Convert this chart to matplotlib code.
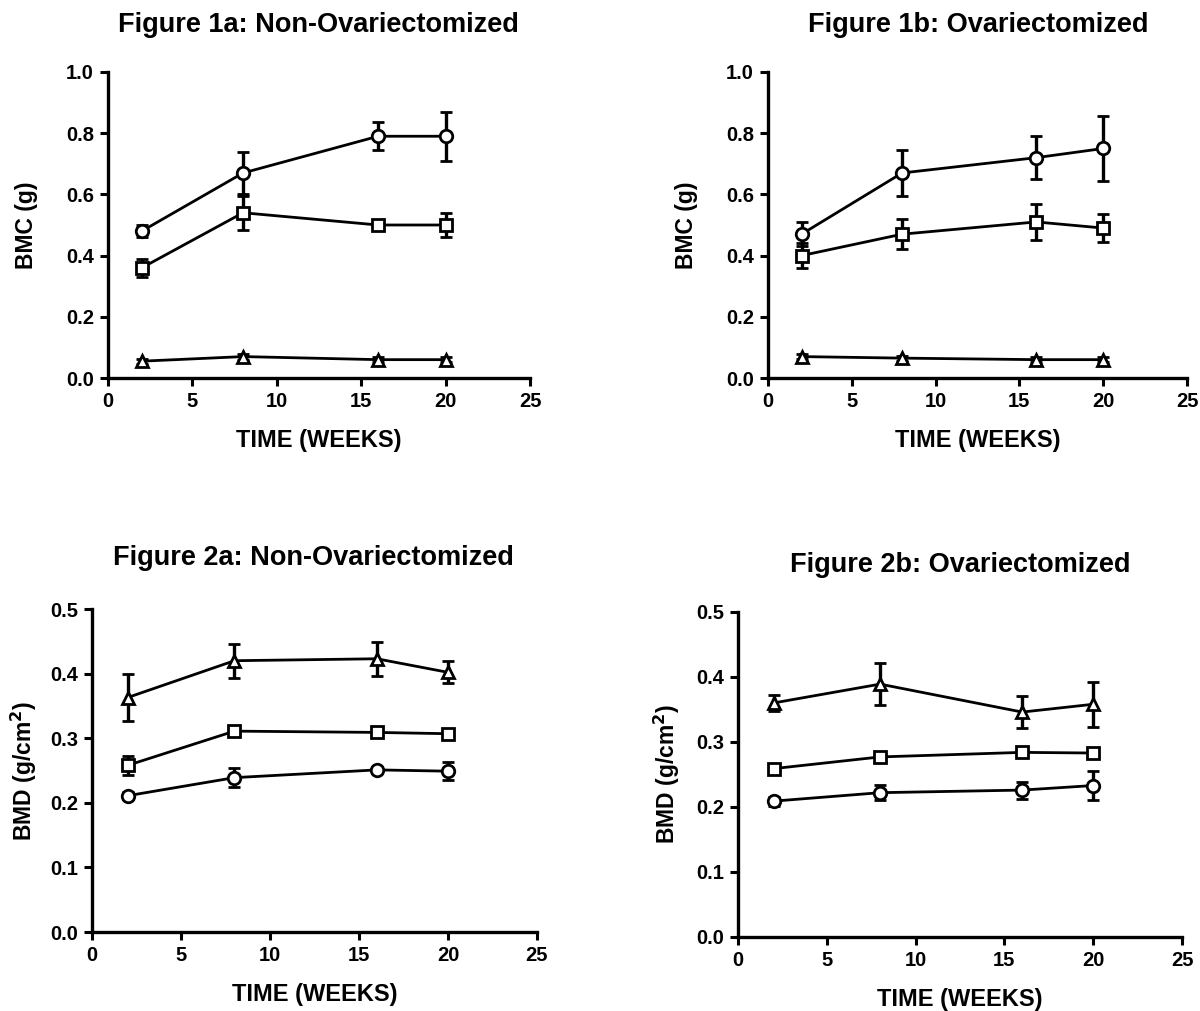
import matplotlib
matplotlib.use("Agg")
import matplotlib.pyplot as plt

plt.rcParams['font.family'] = ['Liberation Sans', 'DejaVu Sans']
plt.rcParams['font.weight'] = 'bold'
plt.rcParams['mathtext.default'] = 'bf'

# time points (weeks)
weeks = [2, 8, 16, 20]

# Figure 1a: BMC, non-ovariectomized
bmc_a_circle = [0.48, 0.67, 0.79, 0.79]
bmc_a_circle_err = [0.02, 0.07, 0.045, 0.08]
bmc_a_square = [0.36, 0.54, 0.50, 0.50]
bmc_a_square_err = [0.03, 0.055, 0.01, 0.04]
bmc_a_triangle = [0.055, 0.07, 0.06, 0.06]
bmc_a_triangle_err = [0.008, 0.01, 0.008, 0.008]

# Figure 1b: BMC, ovariectomized
bmc_b_circle = [0.47, 0.67, 0.72, 0.75]
bmc_b_circle_err = [0.04, 0.075, 0.07, 0.105]
bmc_b_square = [0.40, 0.47, 0.51, 0.49]
bmc_b_square_err = [0.04, 0.05, 0.06, 0.045]
bmc_b_triangle = [0.07, 0.065, 0.06, 0.06]
bmc_b_triangle_err = [0.008, 0.008, 0.008, 0.008]

# Figure 2a: BMD, non-ovariectomized
bmd_a_triangle = [0.363, 0.42, 0.423, 0.402]
bmd_a_triangle_err = [0.036, 0.026, 0.026, 0.017]
bmd_a_square = [0.258, 0.311, 0.309, 0.307]
bmd_a_square_err = [0.015, 0.005, 0.005, 0.005]
bmd_a_circle = [0.211, 0.239, 0.251, 0.249]
bmd_a_circle_err = [0.005, 0.015, 0.005, 0.014]

# Figure 2b: BMD, ovariectomized
bmd_b_triangle = [0.36, 0.389, 0.346, 0.358]
bmd_b_triangle_err = [0.012, 0.032, 0.025, 0.035]
bmd_b_square = [0.259, 0.277, 0.284, 0.283]
bmd_b_square_err = [0.006, 0.005, 0.005, 0.007]
bmd_b_circle = [0.209, 0.222, 0.226, 0.233]
bmd_b_circle_err = [0.007, 0.012, 0.013, 0.022]

titles = ["Figure 1a: Non-Ovariectomized", "Figure 1b: Ovariectomized",
          "Figure 2a: Non-Ovariectomized", "Figure 2b: Ovariectomized"]


def draw_series(ax, y, err, marker):
    ax.errorbar(weeks, y, yerr=err, color='black', lw=2, marker=marker,
                markersize=9, markerfacecolor='white', markeredgewidth=2,
                elinewidth=2.4, capsize=4.5, capthick=2.4, clip_on=False)


def style_axes(ax, ymax, ystep, ylabel, xlab_y, ylab_x):
    ax.set_xlim(0, 25)
    ax.set_ylim(0, ymax)
    ax.set_xticks([0, 5, 10, 15, 20, 25])
    yt = [round(i * ystep, 2) for i in range(int(round(ymax / ystep)) + 1)]
    ax.set_yticks(yt)
    ax.set_yticklabels([f"{v:.1f}" for v in yt])
    for s in ['top', 'right']:
        ax.spines[s].set_visible(False)
    for s in ['left', 'bottom']:
        ax.spines[s].set_linewidth(2.4)
    ax.tick_params(width=2.2, length=6, labelsize=14.5, direction='out', pad=4)
    for lab in ax.get_xticklabels() + ax.get_yticklabels():
        lab.set_fontweight('bold')
    ax.set_xlabel("TIME (WEEKS)", fontsize=17, fontweight='bold')
    ax.set_ylabel(ylabel, fontsize=16.5, fontweight='bold')
    ax.xaxis.set_label_coords(0.5, xlab_y)
    ax.yaxis.set_label_coords(ylab_x, 0.5)


fig = plt.figure(figsize=(12, 10.11), dpi=100)

ax1 = fig.add_axes([0.09, 0.6261, 0.3517, 0.3027])
draw_series(ax1, bmc_a_circle, bmc_a_circle_err, 'o')
draw_series(ax1, bmc_a_square, bmc_a_square_err, 's')
draw_series(ax1, bmc_a_triangle, bmc_a_triangle_err, '^')
style_axes(ax1, 1.0, 0.2, "BMC (g)", -0.167, -0.165)

ax2 = fig.add_axes([0.64, 0.6261, 0.3492, 0.3027])
draw_series(ax2, bmc_b_circle, bmc_b_circle_err, 'o')
draw_series(ax2, bmc_b_square, bmc_b_square_err, 's')
draw_series(ax2, bmc_b_triangle, bmc_b_triangle_err, '^')
style_axes(ax2, 1.0, 0.2, "BMC (g)", -0.167, -0.167)

ax3 = fig.add_axes([0.0767, 0.0781, 0.3708, 0.3195])
draw_series(ax3, bmd_a_triangle, bmd_a_triangle_err, '^')
draw_series(ax3, bmd_a_square, bmd_a_square_err, 's')
draw_series(ax3, bmd_a_circle, bmd_a_circle_err, 'o')
style_axes(ax3, 0.5, 0.1, "BMD (g/cm$^2$)", -0.158, -0.12)

ax4 = fig.add_axes([0.615, 0.0732, 0.37, 0.3215])
draw_series(ax4, bmd_b_triangle, bmd_b_triangle_err, '^')
draw_series(ax4, bmd_b_square, bmd_b_square_err, 's')
draw_series(ax4, bmd_b_circle, bmd_b_circle_err, 'o')
style_axes(ax4, 0.5, 0.1, "BMD (g/cm$^2$)", -0.157, -0.126)

fig.text(0.265, 0.975, titles[0], ha='center', va='center', fontsize=19.5, fontweight='bold')
fig.text(0.815, 0.975, titles[1], ha='center', va='center', fontsize=19.5, fontweight='bold')
fig.text(0.261, 0.448, titles[2], ha='center', va='center', fontsize=19.5, fontweight='bold')
fig.text(0.80, 0.441, titles[3], ha='center', va='center', fontsize=19.5, fontweight='bold')

fig.savefig("out.png", dpi=100)
